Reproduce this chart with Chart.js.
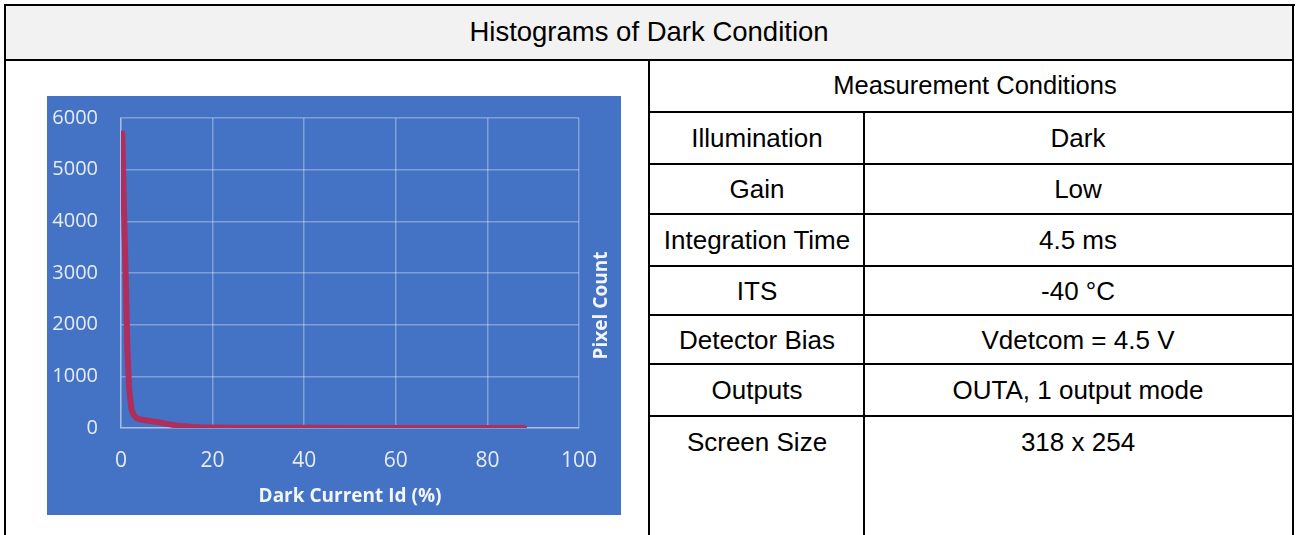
<!DOCTYPE html>
<html><head><meta charset="utf-8">
<script src="https://cdn.jsdelivr.net/npm/chart.js@4.4.0/dist/chart.umd.min.js"></script>
<style>
html,body{margin:0;padding:0;background:#fff;}
body{width:1298px;height:535px;overflow:hidden;position:relative;font-family:"Liberation Sans",Arial,sans-serif;}
.ln{position:absolute;background:#000;}
.bg{position:absolute;background:#f2f2f2;}
.t{position:absolute;font-size:26px;color:#000;white-space:nowrap;transform:translate(-50%,-50%);line-height:1;}
#c{position:absolute;left:47px;top:96px;width:574px;height:419px;background:#4472c4;}
</style></head><body>
<div class="bg" style="left:6px;top:6px;width:1286px;height:53px;"></div>
<div class="ln" style="left:4px;top:4px;width:1291px;height:2px;"></div>
<div class="ln" style="left:4px;top:4px;width:2px;height:531px;"></div>
<div class="ln" style="left:1292px;top:4px;width:2px;height:531px;"></div>
<div class="ln" style="left:4px;top:59px;width:1290px;height:2px;"></div>
<div class="ln" style="left:648px;top:60px;width:2px;height:475px;"></div>
<div class="ln" style="left:649px;top:111px;width:644px;height:2px;"></div>
<div class="ln" style="left:649px;top:163px;width:644px;height:2px;"></div>
<div class="ln" style="left:649px;top:213px;width:644px;height:2px;"></div>
<div class="ln" style="left:649px;top:265px;width:644px;height:2px;"></div>
<div class="ln" style="left:649px;top:314px;width:644px;height:2px;"></div>
<div class="ln" style="left:649px;top:363px;width:644px;height:2px;"></div>
<div class="ln" style="left:649px;top:415px;width:644px;height:2px;"></div>
<div class="ln" style="left:863px;top:112px;width:2px;height:423px;"></div>
<div id="texts"></div>
<canvas id="c" width="574" height="419"></canvas>
<script>
// ---- chart data ----
const darkCurrentPct = [0.3, 0.5, 0.8, 1.1, 1.4, 1.8, 2.3, 2.8, 3.4, 4, 5, 6, 7, 8, 9, 10, 11, 12, 13, 14, 15, 16, 18, 20, 25, 30, 40, 50, 60, 70, 80, 88];
const pixelCount     = [5700, 4800, 3700, 2670, 1500, 735, 350, 250, 190, 170, 155, 140, 125, 115, 100, 80, 65, 50, 40, 32, 25, 18, 12, 8, 5, 4, 3, 2, 2, 1, 1, 1];
const xTickValues = [0, 20, 40, 60, 80, 100];
const yTickValues = [0, 1000, 2000, 3000, 4000, 5000, 6000];
const xAxisTitle = 'Dark Current Id (%)';
const yAxisTitle = 'Pixel Count';

// ---- table text ----
const pageTitle = 'Histograms of Dark Condition';
const conditionsHeader = 'Measurement Conditions';
const conditionLabels = ['Illumination', 'Gain', 'Integration Time', 'ITS', 'Detector Bias', 'Outputs', 'Screen Size'];
const conditionValues = ['Dark', 'Low', '4.5 ms', '-40 °C', 'Vdetcom = 4.5 V', 'OUTA, 1 output mode', '318 x 254'];

const rowCenters = [138, 189, 240, 291, 340, 390, 442];
const T = document.getElementById('texts');
function addText(txt, x, y, size){
  const d = document.createElement('div'); d.className='t';
  d.style.left = x+'px'; d.style.top = y+'px'; d.textContent = txt;
  if (size) d.style.fontSize = size + 'px';
  T.appendChild(d);
}
addText(pageTitle, 649, 32, 27.5);
addText(conditionsHeader, 975, 86, 25.5);
conditionLabels.forEach((l,i)=>addText(l, 757, rowCenters[i]));
conditionValues.forEach((v,i)=>addText(v, 1078, rowCenters[i]));

const yTitlePlugin = {
  id: 'yTitleRight',
  afterDraw(chart){
    const ctx = chart.ctx; ctx.save();
    ctx.font = 'bold 19px "Open Sans"';
    ctx.fillStyle = '#f2f5fb';
    ctx.textAlign = 'center'; ctx.textBaseline = 'middle';
    ctx.translate(chart.width - 19, chart.height/2);
    ctx.rotate(-Math.PI/2);
    ctx.fillText(yAxisTitle, 0, 0);
    ctx.restore();
  }
};

const gridCol = 'rgba(255,255,255,0.32)';
function build(){
  new Chart(document.getElementById('c'), {
    type: 'line',
    data: {
      datasets: [{
        data: darkCurrentPct.map((x,i)=>({x:x, y:pixelCount[i]})),
        borderColor: 'rgb(176,46,92)',
        borderWidth: 6,
        borderJoinStyle: 'round',
        borderCapStyle: 'round',
        pointRadius: 0,
        tension: 0,
        fill: false
      }]
    },
    plugins: [yTitlePlugin],
    options: {
      responsive: false,
      animation: false,
      events: [],
      layout: { padding: { left: 0, top: 22, right: 42, bottom: 0 } },
      plugins: { legend: { display: false }, tooltip: { enabled: false } },
      scales: {
        x: {
          type: 'linear', min: 0, max: 100,
          afterBuildTicks: s => { s.ticks = xTickValues.map(v=>({value:v})); },
          afterFit: s => { s.height = 87; },
          grid: { color: gridCol, lineWidth: 1.5, drawTicks: false },
          border: { display: true, color: gridCol, width: 1.5 },
          ticks: { color: '#e6ecf6', padding: 20, font: { family: 'Open Sans', size: 21 }, maxRotation: 0, callback: v => String(v) },
          title: { display: true, text: xAxisTitle, color: '#f2f5fb', padding: { top: 0, bottom: 7 }, font: { family: 'Open Sans', size: 19, weight: 'bold' } }
        },
        y: {
          type: 'linear', min: 0, max: 6000,
          afterBuildTicks: s => { s.ticks = yTickValues.map(v=>({value:v})); },
          afterFit: s => { s.width = 74; s.paddingTop = 0; s.paddingBottom = 0; },
          grid: { color: gridCol, lineWidth: 1.5, drawTicks: false },
          border: { display: true, color: gridCol, width: 1.5 },
          ticks: { color: '#e6ecf6', padding: 23, font: { family: 'Open Sans', size: 20 }, callback: v => String(v) }
        }
      }
    }
  });
}
if (document.fonts && document.fonts.load) {
  Promise.all([document.fonts.load('20px "Open Sans"'), document.fonts.load('bold 19px "Open Sans"')]).then(build, build);
} else build();
</script>
</body></html>
